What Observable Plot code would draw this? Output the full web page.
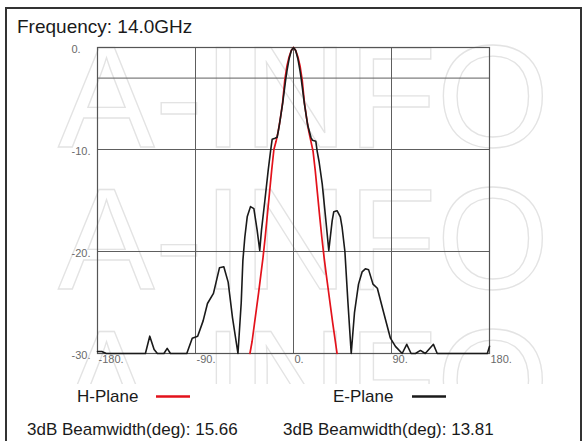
<!DOCTYPE html>
<html>
<head>
<meta charset="utf-8">
<script src="https://cdn.jsdelivr.net/npm/d3@7"></script>
<script src="https://cdn.jsdelivr.net/npm/@observablehq/plot@0.6"></script>
<style>
  body { margin: 0; background: #fff; }
  #wrap { position: relative; width: 585px; height: 441px; overflow: hidden; background: #fff; font-family: "Liberation Sans", Arial, sans-serif; }
  #wrap > * { position: absolute; left: 0; top: 0; }
  #cover { left: 7px; top: 384px; width: 572px; height: 60px; background: #fff; }
  #border { left: 5px; top: 7px; width: 577px; height: 470px; border: 2px solid #333; box-sizing: border-box; }
</style>
</head>
<body>
<div id="wrap">
  <svg id="wm" width="585" height="441"></svg>
  <div id="cover"></div>
  <div id="chart"></div>
  <svg id="overlay" width="585" height="441"></svg>
  <div id="border"></div>
</div>
<script>
// ---- data ----
const title = "Frequency: 14.0GHz";
const seriesNames = ["H-Plane", "E-Plane"];
const seriesColors = ["#e3121b", "#1a1a1a"];
const beamwidths = ["3dB Beamwidth(deg): 15.66", "3dB Beamwidth(deg): 13.81"];

const xTicks = [-180, -90, 0, 90, 180];
const yTicks = [0, -10, -20, -30];
const gridX = [-90, 0, 90];
const gridY = [-3, -10, -20];

const hAngles = [-40, -38, -36, -34, -32, -30, -28, -26, -24, -22, -20, -18, -16, -14, -12, -10, -8, -6, -4, -2, 0,
                 2, 4, 6, 8, 10, 12, 14, 16, 18, 20, 22, 24, 26, 28, 30, 32, 34, 36, 38, 40];
const hValues = [-30, -28.8, -27.2, -25.6, -24.0, -22.3, -20.6, -18.6, -16.4, -14.2, -12.0, -10.0, -9.2, -8.2, -6.9, -5.4, -3.2, -1.8, -0.9, -0.3, 0,
                 -0.3, -0.9, -1.8, -3.2, -5.4, -6.9, -8.2, -9.2, -10.2, -12.1, -14.3, -16.5, -18.6, -20.5, -22.2, -23.8, -25.4, -27.0, -28.5, -30];

const eAngles = [-180, -176, -172, -160, -143, -136, -132, -128, -125, -119, -116, -113, -98, -93, -88, -83, -79, -73.5, -68, -64, -60, -56, -51,
                 -48, -46.5, -44.7, -42.5, -39.5, -36.4, -33.4, -31, -29.4, -26.3, -23.3, -21, -19.6, -17, -15, -13, -10, -7, -6, -4, -2, 0,
                 2, 4, 6, 7, 10, 13, 16, 17.4, 20.5, 21.8, 23.5, 26.4, 29.4, 32.4, 35.5, 37, 40, 43, 44.6, 47.2, 50, 53,
                 56, 59.7, 63, 66, 69, 73, 77, 82.6, 89, 93.6, 99.8, 104, 108, 112, 116.6, 121, 128.5, 132, 178, 180];
const eValues = [-29.8, -29.8, -30, -30, -30, -30, -28.3, -29.6, -30, -30, -29.5, -30, -30, -28.5, -28.3, -26.8, -25.1, -24.1, -21.6, -21.5, -23, -26.5, -30,
                 -25, -20.9, -18.6, -16.6, -15.6, -15.8, -17.9, -19.9, -17.9, -15.0, -12.1, -10.1, -9.0, -8.9, -8.8, -7.6, -5.5, -3.0, -2.3, -1.1, -0.3, 0,
                 -0.3, -1.1, -2.3, -3.0, -5.5, -7.6, -8.8, -9.1, -9.2, -10.2, -11.2, -13.4, -16.6, -19.9, -17.0, -16.1, -16.0, -16.6, -17.6, -20, -25, -30,
                 -26, -23.2, -22, -21.7, -21.8, -23.2, -23.6, -25.9, -28.5, -29.3, -30, -29.1, -30, -30, -29.7, -30, -29.1, -30, -30, -29.3];

const hPlane = hAngles.map((a, i) => ({angle: a, gain: hValues[i]}));
const ePlane = eAngles.map((a, i) => ({angle: a, gain: eValues[i]}));

// ---- watermark ----
const wm = d3.select("#wm");
["A-INFO", "A-INFO", "A-INFO"].forEach((t, i) => {
  wm.append("text").attr("x", 58).attr("y", 147 + i * 142)
    .attr("font-size", 145).attr("font-family", "Liberation Sans, Arial, sans-serif")
    .attr("fill", "none").attr("stroke", "#e3e3e3").attr("stroke-width", 1.3)
    .text(t);
});

// ---- chart ----
const fmt = d => `${d}.`;
const chart = Plot.plot({
  width: 585, height: 441,
  marginLeft: 97, marginRight: 96, marginTop: 47, marginBottom: 88,
  style: {background: "transparent", fontFamily: "Liberation Sans, Arial, sans-serif"},
  x: {domain: [-180, 180]},
  y: {domain: [-30, 0]},
  marks: [
    Plot.ruleX(gridX, {stroke: "#5e5e5e", strokeWidth: 1}),
    Plot.ruleY(gridY, {stroke: "#5e5e5e", strokeWidth: 1}),
    Plot.frame({stroke: "#555", strokeWidth: 1.2}),
    Plot.axisX({ticks: xTicks, tickFormat: fmt, tickSize: 0, tickPadding: 2, textAnchor: "start", dx: 1, fontSize: 11, fill: "#6a6a6a", label: null}),
    Plot.axisY({ticks: yTicks, tickFormat: fmt, tickSize: 0, tickPadding: 26, textAnchor: "start", dy: 2, fontSize: 11, fill: "#6a6a6a", label: null}),
    Plot.line(hPlane, {x: "angle", y: "gain", stroke: seriesColors[0], strokeWidth: 1.7}),
    Plot.line(ePlane, {x: "angle", y: "gain", stroke: seriesColors[1], strokeWidth: 1.6})
  ]
});
document.getElementById("chart").appendChild(chart);

// ---- title, legend, captions ----
const ov = d3.select("#overlay").attr("font-family", "Liberation Sans, Arial, sans-serif");
ov.append("text").attr("x", 17).attr("y", 33).attr("font-size", 19).attr("fill", "#1a1a1a").text(title);
const legendX = [77, 333];
seriesNames.forEach((n, i) => {
  ov.append("text").attr("x", legendX[i]).attr("y", 401.5).attr("font-size", 17).attr("fill", "#1a1a1a").text(n);
  ov.append("line").attr("x1", legendX[i] + 79).attr("x2", legendX[i] + 113)
    .attr("y1", 396.5).attr("y2", 396.5).attr("stroke", seriesColors[i]).attr("stroke-width", 2.5);
});
const bwX = [27, 283];
beamwidths.forEach((b, i) => {
  ov.append("text").attr("x", bwX[i]).attr("y", 434.5).attr("font-size", 17).attr("fill", "#1a1a1a").text(b);
});
</script>
</body>
</html>
